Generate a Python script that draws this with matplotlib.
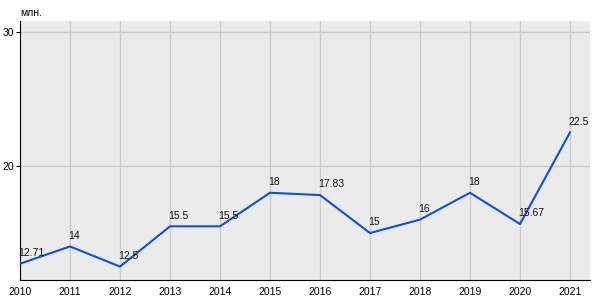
import matplotlib.pyplot as plt

years = [2010, 2011, 2012, 2013, 2014, 2015, 2016, 2017, 2018, 2019, 2020, 2021]
values = [12.71, 14, 12.5, 15.5, 15.5, 18, 17.83, 15, 16, 18, 15.67, 22.5]
labels = ['12.71', '14', '12.5', '15.5', '15.5', '18', '17.83', '15', '16', '18', '15.67', '22.5']

plt.rcParams['font.family'] = ['Liberation Sans', 'DejaVu Sans']

fig = plt.figure(figsize=(6, 3), dpi=100)
ax = fig.add_axes([20 / 600, 20 / 300, 570 / 600, 259 / 300])
ax.set_facecolor('#ebebeb')

ax.plot(years, values, color='#0a50e6', linewidth=1.5, zorder=3)
for x, y, s in zip(years, values, labels):
    ax.annotate(s, (x, y), xytext=(-1, 4), textcoords='offset points',
                fontsize=7.5, color='#111111', ha='left', va='bottom', zorder=4)

ax.set_xlim(2010, 2021.4)
ax.set_ylim(11.5, 30.8)
ax.set_xticks(years)
ax.set_yticks([20, 30])
ax.grid(True, color='#cccccc', linewidth=1)
ax.set_axisbelow(True)

for side in ['top', 'right']:
    ax.spines[side].set_visible(False)
ax.spines['left'].set_color('black')
ax.spines['bottom'].set_color('black')
ax.tick_params(axis='x', length=0, labelsize=7.5, pad=5)
ax.tick_params(axis='y', length=3, labelsize=7.5, pad=1)

fig.text(20 / 600, 1 - 13 / 300, 'млн.', fontsize=7.5, ha='left', va='center')

fig.savefig('out.png', dpi=100)
